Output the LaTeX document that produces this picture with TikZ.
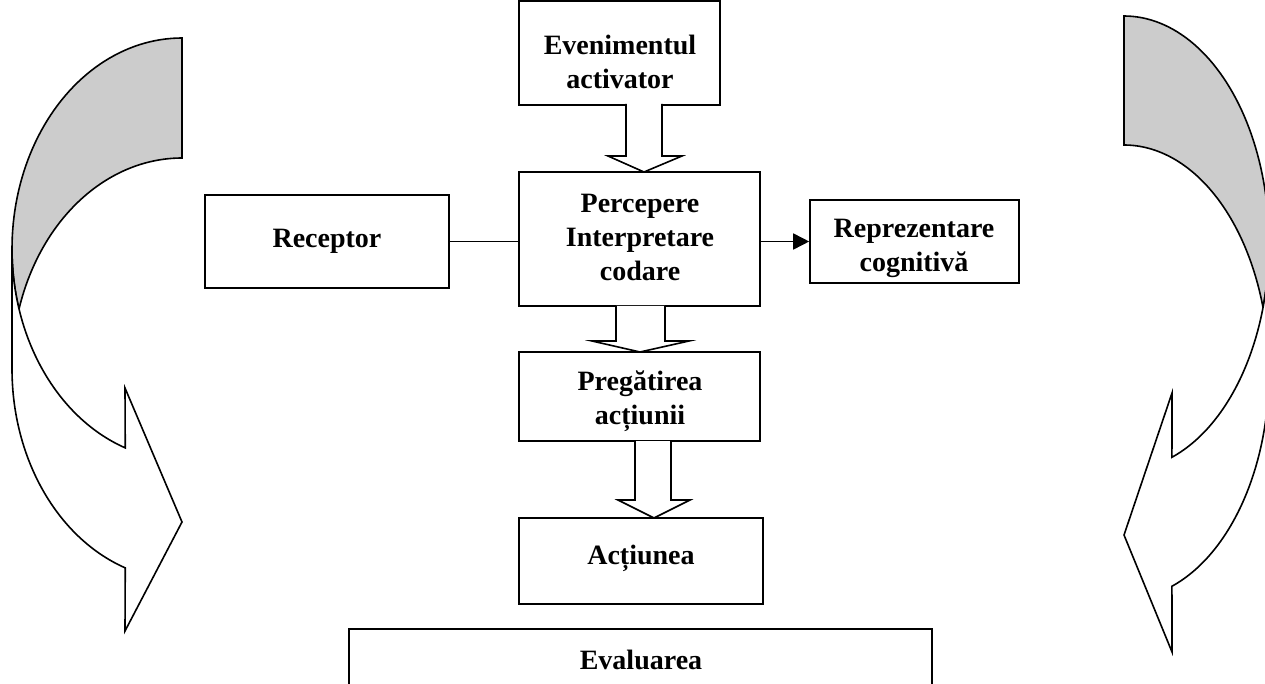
\documentclass[tikz,border=0pt]{standalone}
\usepackage{fontspec}
\setmainfont{Liberation Serif}
\usetikzlibrary{arrows.meta}
\begin{document}
\begin{tikzpicture}[x=1pt,y=-1pt,
  box/.style={draw, line width=1.6pt, fill=white, inner sep=0pt},
  txt/.style={font=\fontsize{28}{34}\selectfont\bfseries, align=center, inner sep=0pt},
  barrow/.style={draw, line width=1.6pt, fill=white, line join=miter},
  curv/.style={draw, line width=1.6pt, line join=miter},
  back/.style={curv, fill=black!20},
  front/.style={curv, fill=white}]
\useasboundingbox (0,0) rectangle (1265,684);
\clip (0,0) rectangle (1265,684);

% ---- left curved arrow ----
\path[back] plot[domain=163.5:270, samples=60] ({182+170*cos(\x)},{249+211*sin(\x)})
  -- (182,158)
  -- plot[domain=270:196.5, samples=60] ({182+170*cos(\x)},{369+211*sin(\x)}) -- cycle;
\path[front] plot[domain=180:109.5, samples=60] ({182+170*cos(\x)},{249+211*sin(\x)})
  -- (125,388) -- (182,522) -- (125,631)
  -- plot[domain=109.5:180, samples=60] ({182+170*cos(\x)},{369+211*sin(\x)}) -- cycle;

% ---- right curved arrow ----
\path[back] plot[domain=163.5:270, samples=60] ({1124-145*cos(\x)},{243+227*sin(\x)})
  -- (1124,145)
  -- plot[domain=270:196.5, samples=60] ({1124-145*cos(\x)},{372+227*sin(\x)}) -- cycle;
\path[front] plot[domain=180:109.3, samples=60] ({1124-145*cos(\x)},{243+227*sin(\x)})
  -- (1172,393) -- (1124,535) -- (1172,652)
  -- plot[domain=109.3:180, samples=60] ({1124-145*cos(\x)},{372+227*sin(\x)}) -- cycle;

% ---- boxes ----
\node[box, minimum width=201pt, minimum height=104pt] (ev) at (619.5,53) {};
\node[box, minimum width=241pt, minimum height=134pt] (perc) at (639.5,239) {};
\node[box, minimum width=244pt, minimum height=93pt] (rec) at (327,241.5) {};
\node[box, minimum width=209pt, minimum height=83pt] (rep) at (914.5,241.5) {};
\node[box, minimum width=241pt, minimum height=89pt] (preg) at (639.5,396.5) {};
\node[box, minimum width=244pt, minimum height=86pt] (act) at (641,561) {};
\node[box, minimum width=583pt, minimum height=80pt] (eval) at (640.5,669) {};

\node[txt] (evT) at (620,62) {Evenimentul\\activator};
\node[txt] (percT) at (640,237) {Percepere\\Interpretare\\codare};
\node[txt] (recT) at (327,241) {Receptor};
\node[txt] (repT) at (914,248) {Reprezentare\\cognitivă};
\node[txt] (pregT) at (640,401) {Pregătirea\\acțiunii};
\node[txt] (actT) at (641,558) {Acțiunea};
\node[txt] (evalT) at (641,660) {Evaluarea};

% ---- connectors ----
\draw[line width=1.6pt] (rec.east) -- (rec.east -| perc.west);
\draw[line width=1.6pt, -{Triangle[length=16pt,width=16pt]}] (perc.east |- rep.west) -- (rep.west);

% ---- block arrows ----
\path[barrow] (626,104) -- (626,156) -- (608,156) -- (644,172) -- (682,156) -- (662,156) -- (662,104);
\path[barrow] (616,306) -- (616,341) -- (592,341) -- (640,352) -- (689,341) -- (665,341) -- (665,306);
\path[barrow] (635,441) -- (635,500) -- (618,500) -- (654,518) -- (690,500) -- (671,500) -- (671,441);
\end{tikzpicture}
\end{document}
